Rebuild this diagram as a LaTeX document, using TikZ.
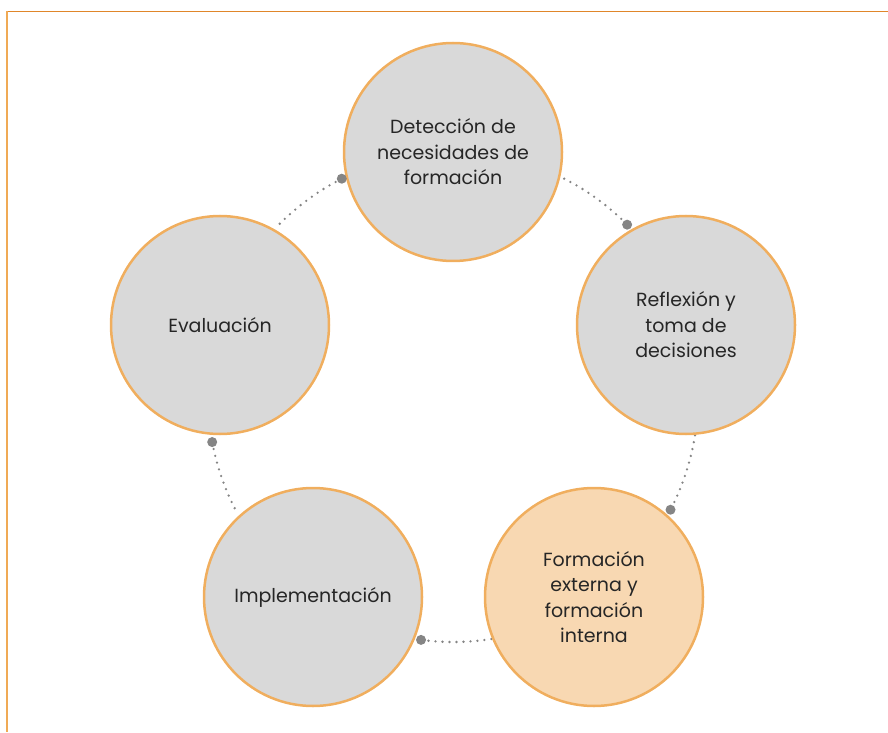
\documentclass[tikz,border=0pt]{standalone}
\usepackage{fontspec}
\setmainfont{Poppins}
\usetikzlibrary{calc}
\definecolor{ringor}{HTML}{F0AE5E}
\definecolor{circgray}{HTML}{D9D9D9}
\definecolor{peach}{HTML}{F8D8B2}
\definecolor{topline}{HTML}{E0862A}
\definecolor{leftline}{HTML}{F0AA55}
\definecolor{dotgray}{HTML}{858585}
\definecolor{txt}{HTML}{262626}
\begin{document}
\begin{tikzpicture}[x=1pt,y=1pt,
  circ/.style={circle,draw=ringor,line width=2.5pt,fill=circgray,minimum size=218pt,inner sep=0pt,align=center,text=txt,font=\fontsize{19}{25.5}\selectfont},
  link/.style={dotgray,line width=2.6pt,line cap=round,dash pattern=on 0pt off 7pt},
  enddot/.style={circle,fill=dotgray,inner sep=0pt,minimum size=10pt}
]
\useasboundingbox (0,0) rectangle (888,732);
\draw[topline,line width=1.8pt] (6,720.5) -- (888,720.5);
\draw[leftline,line width=2pt] (6.5,720.5) -- (6.5,0);
\coordinate (C) at (453,335);
% connectors (drawn first, circles on top)
\foreach \a/\e/\n in {90/45.3/1,18/45.4/2,-54/43.5/3,-126/43.4/4,162/45/5}{
  \draw[link] ($(C)+(\a-27:245)$) arc[start angle=\a-27,end angle=\a-\e,radius=245];
}
\node[circ] (top) at (453,580) {Detección de\\necesidades de\\formación};
\node[circ] (right) at (686,407) {Reflexión y\\toma de\\decisiones};
\node[circ,fill=peach] (br) at (594,135) {Formación\\externa y\\formación\\interna};
\node[circ] (bl) at (313,135) {Implementación};
\node[circ] (left) at (220,407) {Evaluación};
\foreach \a/\e/\n in {90/45.3/1,18/45.4/2,-54/43.5/3,-126/43.4/4,162/45/5}{
  \node[enddot] (d\n) at ($(C)+(\a-\e:245)$) {};
}
\end{tikzpicture}
\end{document}
